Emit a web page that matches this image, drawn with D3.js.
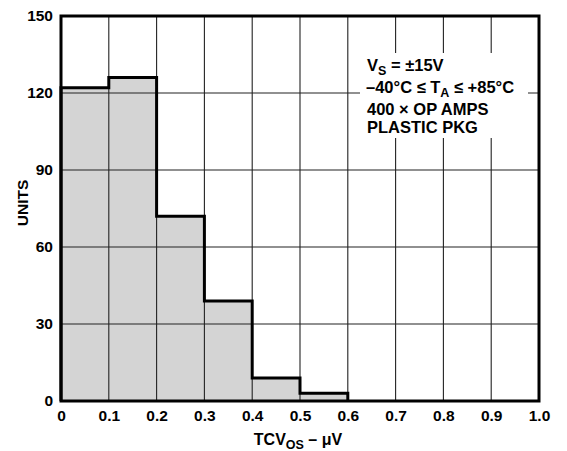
<!DOCTYPE html>
<html>
<head>
<meta charset="utf-8">
<script src="https://cdn.jsdelivr.net/npm/d3@7"></script>
<style>
  html, body { margin: 0; padding: 0; background: #fff; }
  svg { display: block; font-family: "Liberation Sans", Arial, Helvetica, sans-serif; font-weight: bold; }
</style>
</head>
<body>
<svg id="chart" width="567" height="451"></svg>
<script>
const binStarts = [0, 0.1, 0.2, 0.3, 0.4, 0.5];
const binWidth = 0.1;
const units = [122, 126, 72, 39, 9, 3];
const xTicks = [0, 0.1, 0.2, 0.3, 0.4, 0.5, 0.6, 0.7, 0.8, 0.9, 1.0];
const yTicks = [0, 30, 60, 90, 120, 150];

(function () {
const svg = d3.select("#chart");
const pL = 61, pR = 539, pT = 16, pB = 401;
const x = d3.scaleLinear().domain([0, 1]).range([pL, pR]);
const y = d3.scaleLinear().domain([0, 150]).range([pB, pT]);

// bars fill
svg.append("g").selectAll("rect").data(units).join("rect")
  .attr("x", (d, i) => x(binStarts[i]))
  .attr("width", (d, i) => x(binStarts[i] + binWidth) - x(binStarts[i]))
  .attr("y", d => y(d))
  .attr("height", d => y(0) - y(d))
  .attr("fill", "#d4d4d4");

// grid
const grid = svg.append("g").attr("stroke", "#222").attr("stroke-width", 1.1);
grid.selectAll("line.v").data(xTicks.slice(1, -1)).join("line")
  .attr("x1", d => x(d)).attr("x2", d => x(d)).attr("y1", pT).attr("y2", pB);
grid.selectAll("line.h").data(yTicks.slice(1, -1)).join("line")
  .attr("y1", d => y(d)).attr("y2", d => y(d)).attr("x1", pL).attr("x2", pR);

// legend box
const fs = 16.5, sub = 12.5;
svg.append("rect").attr("x", 360).attr("y", 53).attr("width", 168).attr("height", 85).attr("fill", "#fff");
const l1 = svg.append("text").attr("font-size", fs).attr("x", 367).attr("y", 70.8);
l1.append("tspan").text("V");
l1.append("tspan").attr("font-size", sub).attr("dy", 4).text("S");
l1.append("tspan").attr("dy", -4).text(" = ±15V");
const l2 = svg.append("text").attr("font-size", fs).attr("x", 366).attr("y", 93.3);
l2.append("tspan").text("–40°C ≤ T");
l2.append("tspan").attr("font-size", sub).attr("dy", 4).text("A");
l2.append("tspan").attr("dy", -4).text(" ≤ +85°C");
svg.append("text").attr("font-size", fs).attr("x", 367).attr("y", 115).text("400 × OP AMPS");
svg.append("text").attr("font-size", fs).attr("x", 367).attr("y", 133).text("PLASTIC PKG");

// step outline
const pts = [[0, 0]];
units.forEach((d, i) => {
  pts.push([binStarts[i], d]);
  pts.push([binStarts[i] + binWidth, d]);
});
pts.push([binStarts[binStarts.length - 1] + binWidth, 0]);
svg.append("path")
  .attr("d", d3.line().x(p => x(p[0])).y(p => y(p[1]))(pts))
  .attr("fill", "none").attr("stroke", "#000").attr("stroke-width", 3)
  .attr("stroke-linejoin", "miter");

// frame
svg.append("rect").attr("x", pL).attr("y", pT).attr("width", pR - pL).attr("height", pB - pT)
  .attr("fill", "none").attr("stroke", "#000").attr("stroke-width", 3);

// axes labels
const xAxis = d3.axisBottom(x).tickValues(xTicks).tickSize(0).tickPadding(9)
  .tickFormat(d => d === 0 ? "0" : d3.format(".1f")(d));
const gx = svg.append("g").attr("transform", `translate(0,${pB})`).call(xAxis);
gx.select(".domain").remove();
gx.selectAll("text").attr("font-size", 15.5).attr("font-weight", "bold").attr("fill", "#000")
  .attr("font-family", "Liberation Sans, Arial, sans-serif");

const yAxis = d3.axisLeft(y).tickValues(yTicks).tickSize(0).tickPadding(8);
const gy = svg.append("g").attr("transform", `translate(${pL},0)`).call(yAxis);
gy.select(".domain").remove();
gy.selectAll("text").attr("font-size", 15.5).attr("font-weight", "bold").attr("fill", "#000")
  .attr("font-family", "Liberation Sans, Arial, sans-serif");

// titles
const xt = svg.append("text").attr("x", 298).attr("y", 445).attr("text-anchor", "middle").attr("font-size", 16);
xt.append("tspan").text("TCV");
xt.append("tspan").attr("font-size", sub).attr("dy", 4).text("OS");
xt.append("tspan").attr("dy", -4).text(" – μV");

svg.append("text").attr("transform", "translate(28,203) rotate(-90)").attr("text-anchor", "middle")
  .attr("font-size", 15.5).text("UNITS");
})();
</script>
</body>
</html>
